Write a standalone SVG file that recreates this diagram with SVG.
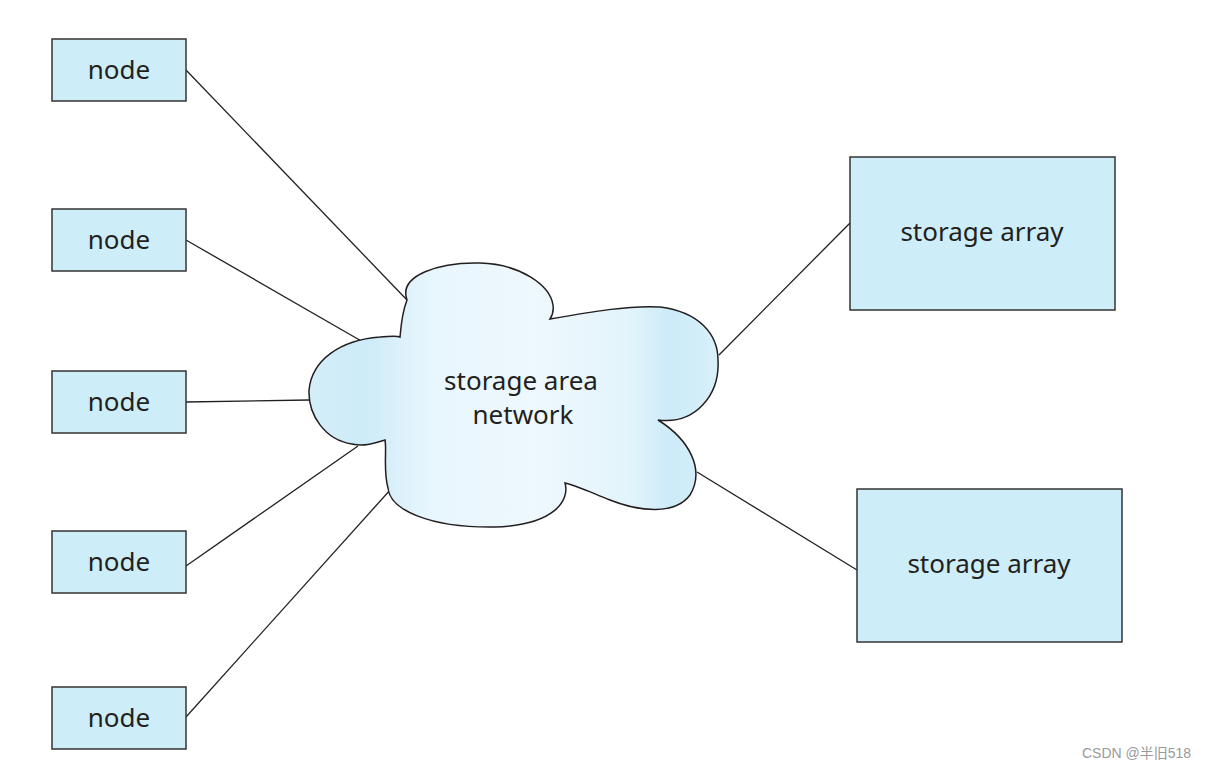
<svg xmlns="http://www.w3.org/2000/svg" width="1209" height="769" viewBox="0 0 1209 769">
<style>
.box{fill:#cdedf9;stroke:#333;stroke-width:1.5}
.lbl{font-family:"Noto Sans","Open Sans",sans-serif;font-size:26px;fill:#231f20;text-anchor:middle}
.conn line{stroke:#231f20;stroke-width:1.3}
.wm{font-family:"Liberation Sans","Noto Sans CJK SC",sans-serif;font-size:14px;fill:#999}
</style>
<defs>
<linearGradient id="cg" x1="309" y1="0" x2="719" y2="0" gradientUnits="userSpaceOnUse">
<stop offset="0" stop-color="#d4eef9"/>
<stop offset="0.13" stop-color="#cdebf8"/>
<stop offset="0.3" stop-color="#e8f6fd"/>
<stop offset="0.55" stop-color="#eef8fd"/>
<stop offset="0.78" stop-color="#e3f4fb"/>
<stop offset="0.88" stop-color="#cdebf8"/>
<stop offset="1" stop-color="#d8f0fa"/>
</linearGradient>
</defs>
<rect width="1209" height="769" fill="#fff"/>
<g class="conn" id="connectors">
<line x1="186" y1="70" x2="407" y2="300"/>
<line x1="186" y1="240" x2="363" y2="342"/>
<line x1="186" y1="402" x2="309" y2="400"/>
<line x1="186" y1="566" x2="358" y2="446"/>
<line x1="186" y1="717" x2="391" y2="489"/>
<line x1="850" y1="223" x2="719" y2="355"/>
<line x1="857" y1="570" x2="697" y2="472"/>
</g>
<g id="san">
<path d="M407 300 C398 275 440 262 480 263 C520 264 550 285 553 305 C554 312 552 316 550 319 C590 312 630 305 660 307 C700 312 718 335 718 360 C720 395 695 425 658 420 C690 440 705 470 690 495 C675 515 640 512 610 500 C590 492 575 485 565 483 C570 500 555 525 495 527 C430 528 390 510 388 488 C383 470 387 450 385 440 C375 443 365 447 352 444 C325 440 308 415 309 390 C312 360 340 340 380 337 C390 336 398 336 400 337 C401 325 403 310 407 300 Z" fill="url(#cg)" stroke="#231f20" stroke-width="1.5"/>
<text class="lbl" x="521" y="390">storage area</text>
<text class="lbl" x="523" y="424">network</text>
</g>
<g id="node1"><rect class="box" x="52" y="39" width="134" height="62"/><text class="lbl" x="119" y="79">node</text></g>
<g id="node2"><rect class="box" x="52" y="209" width="134" height="62"/><text class="lbl" x="119" y="249">node</text></g>
<g id="node3"><rect class="box" x="52" y="371" width="134" height="62"/><text class="lbl" x="119" y="411">node</text></g>
<g id="node4"><rect class="box" x="52" y="531" width="134" height="62"/><text class="lbl" x="119" y="571">node</text></g>
<g id="node5"><rect class="box" x="52" y="687" width="134" height="62"/><text class="lbl" x="119" y="727">node</text></g>
<g id="array1"><rect class="box" x="850" y="157" width="265" height="153"/><text class="lbl" x="982" y="241">storage array</text></g>
<g id="array2"><rect class="box" x="857" y="489" width="265" height="153"/><text class="lbl" x="989" y="573">storage array</text></g>
<text class="wm" x="1082" y="758">CSDN @半旧518</text>
</svg>
